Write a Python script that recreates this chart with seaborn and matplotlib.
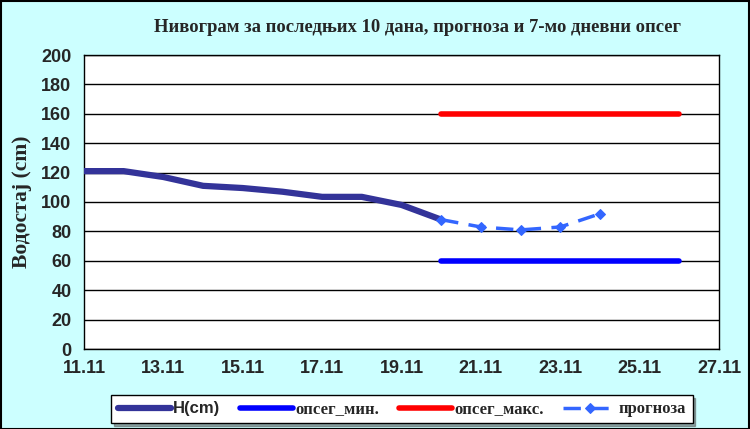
import matplotlib
matplotlib.use("Agg")
import matplotlib.pyplot as plt
import matplotlib.dates as mdates
from matplotlib.patches import Rectangle
import seaborn as sns
import pandas as pd

# ---- data ----
h_dates = ["2023-11-11", "2023-11-12", "2023-11-13", "2023-11-14", "2023-11-15",
           "2023-11-16", "2023-11-17", "2023-11-18", "2023-11-19", "2023-11-20"]
h_values = [121, 121, 117, 111, 109.5, 107, 103.5, 103.5, 98, 88]

fc_dates = ["2023-11-20", "2023-11-21", "2023-11-22", "2023-11-23", "2023-11-24"]
fc_values = [88, 83, 81, 83, 92]

range_dates = ["2023-11-20", "2023-11-26"]
range_min = [60, 60]
range_max = [160, 160]

title = "Нивограм за последњих 10 дана, прогноза и 7-мо дневни опсег"
ylabel = "Водостај (cm)"
labels = ["H(cm)", "опсег_мин.", "опсег_макс.", "прогноза"]

df_h = pd.DataFrame({"date": pd.to_datetime(h_dates), "v": h_values})
df_fc = pd.DataFrame({"date": pd.to_datetime(fc_dates), "v": fc_values})
df_min = pd.DataFrame({"date": pd.to_datetime(range_dates), "v": range_min})
df_max = pd.DataFrame({"date": pd.to_datetime(range_dates), "v": range_max})

sns.set_style("white")
bg = "#CCFFFF"
fig = plt.figure(figsize=(7.5, 4.29), dpi=100, facecolor=bg)
ax = fig.add_axes([84/750, 1-349/429, (719-84)/750, (349-55)/429])
ax.set_facecolor("white")

sns.lineplot(data=df_h, x="date", y="v", ax=ax, color="#333399", lw=4.5,
             label=labels[0], zorder=3, solid_capstyle="round")
sns.lineplot(data=df_min, x="date", y="v", ax=ax, color="#0000FF", lw=4,
             label=labels[1], zorder=3, solid_capstyle="round")
sns.lineplot(data=df_max, x="date", y="v", ax=ax, color="#FF0000", lw=4,
             label=labels[2], zorder=3, solid_capstyle="round")
sns.lineplot(data=df_fc, x="date", y="v", ax=ax, color="#3366FF", lw=2.5,
             marker="D", markersize=5.5, markeredgecolor="#3366FF",
             dashes=False, linestyle=(0, (5, 3)), label=labels[3], zorder=4)

ax.set_ylim(0, 200)
ax.set_yticks(range(0, 201, 20))
ax.set_xlim(pd.Timestamp("2023-11-11"), pd.Timestamp("2023-11-27"))
ax.xaxis.set_major_locator(mdates.DayLocator(interval=2))
ax.xaxis.set_major_formatter(mdates.DateFormatter("%d.%m"))
ax.xaxis.set_minor_locator(mdates.HourLocator(byhour=[0, 12]))
ax.grid(axis="y", color="black", lw=1)
ax.set_axisbelow(True)
for s in ax.spines.values():
    s.set_color("black")
    s.set_linewidth(1)
ax.tick_params(axis="both", which="both", direction="out", color="black",
               length=5, width=1)
ax.tick_params(axis="x", which="both", length=4)
ax.tick_params(axis="both", which="major", pad=4)
for t in ax.get_xticklabels() + ax.get_yticklabels():
    t.set_fontfamily("Liberation Sans")
    t.set_fontweight("bold")
    t.set_fontsize(13)
ax.set_xlabel("")
ax.set_ylabel(ylabel, fontfamily="Liberation Serif", fontweight="bold",
              fontsize=15.5)
ax.yaxis.set_label_coords(-0.082, 0.5)

fig.text(0.557, 0.935, title, ha="center", va="center",
         fontfamily="Liberation Serif", fontweight="bold", fontsize=13.4)

leg = ax.legend(loc="center", bbox_to_anchor=(402/750, 1-409/429),
                bbox_transform=fig.transFigure, ncol=4, frameon=True,
                fancybox=False, shadow=True, handlelength=3.8,
                columnspacing=1.4, handletextpad=0.2, borderpad=0.45)
leg.get_frame().set_edgecolor("black")
leg.get_frame().set_linewidth(1)
for i, t in enumerate(leg.get_texts()):
    t.set_fontweight("bold")
    t.set_fontsize(12)
    t.set_fontfamily("Liberation Sans" if i == 0 else "Liberation Serif")

fig.patches.append(Rectangle((0.001, 0.001), 0.997, 0.997, transform=fig.transFigure,
                             fill=False, edgecolor="black", lw=1.5))
fig.savefig("out.png", dpi=100, facecolor=bg)
